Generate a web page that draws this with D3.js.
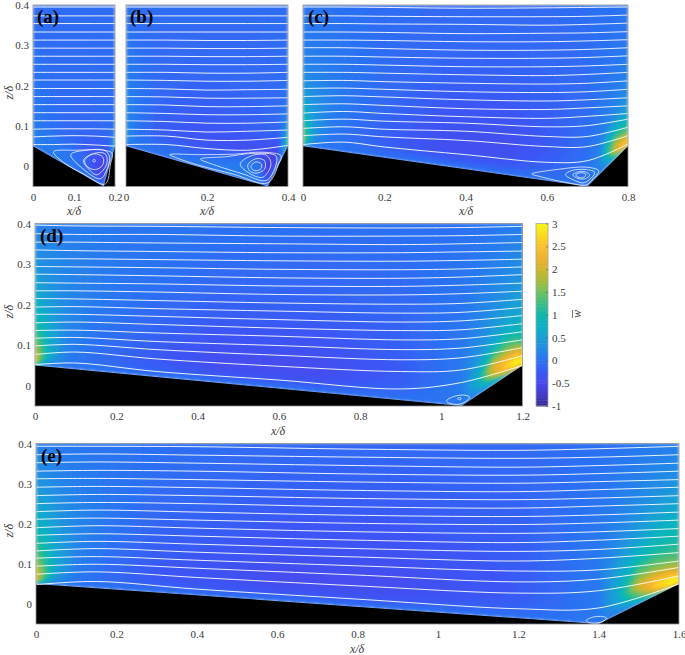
<!DOCTYPE html>
<html>
<head>
<meta charset="utf-8">
<script src="https://cdn.jsdelivr.net/npm/d3@7"></script>
<style>
body { margin: 0; background: #fff; }
text { font-family: "Liberation Serif", serif; fill: #3a3a3a; }
</style>
</head>
<body>
<svg id="chart" width="685" height="655"></svg>
<script>
// colorbar
var cbValues = [-1,-0.75,-0.5,-0.25,0,0.25,0.5,0.75,1,1.25,1.5,1.75,2,2.25,2.5,2.75,3];
var cbColors = ['#382b96','#433cc8','#4848ee','#3a58f5','#2b72f2','#2289e6','#1a9fd6','#0bb0c4','#10b8ae','#3abd85','#70c060','#a8bb3e','#cfb52e','#efb230','#fcbe2e','#fada20','#f8f810'];
var cbTicks = [-1,-0.5,0,0.5,1,1.5,2,2.5,3];

// height above the wall as a fraction of wall-to-top distance, top row first
var sigmaRows = [1,0.75,0.55,0.4,0.28,0.18,0.11,0.06,0.025,0];

// (a)
var colsA = [0,0.02,0.06,0.11,0.14,0.16,0.172,0.185,0.2];
var wA = [
  [-0.05,-0.05,-0.05,-0.05,-0.05,-0.05,-0.05,-0.05,-0.05],
  [-0.03,-0.04,-0.05,-0.05,-0.05,-0.05,-0.05,-0.05,-0.04],
  [0,-0.02,-0.05,-0.05,-0.05,-0.05,-0.05,-0.04,-0.02],
  [0.03,0,-0.05,-0.07,-0.07,-0.06,-0.06,-0.04,0],
  [0.05,0.02,-0.05,-0.1,-0.12,-0.12,-0.1,-0.05,0.02],
  [0.1,0.05,-0.03,-0.15,-0.25,-0.3,-0.28,-0.12,0.15],
  [0.2,0.08,0.05,-0.05,-0.2,-0.55,-0.6,-0.3,0.4],
  [0.2,0.1,0.08,0,-0.2,-0.5,-0.55,-0.3,0.8],
  [0.2,0.1,0.08,0.05,-0.05,-0.2,-0.25,-0.1,0.7],
  [0.1,0.05,0.05,0.03,0.02,0.02,0.02,0.05,0.2]
];
var linesXA = [0,0.05,0.1,0.15,0.2];
var linesA = [
  [0.395,0.395,0.395,0.395,0.395],
  [0.373,0.373,0.373,0.373,0.373],
  [0.354,0.354,0.354,0.354,0.354],
  [0.333,0.333,0.333,0.333,0.333],
  [0.313,0.313,0.313,0.313,0.313],
  [0.293,0.293,0.293,0.293,0.293],
  [0.273,0.273,0.273,0.273,0.273],
  [0.253,0.253,0.253,0.253,0.253],
  [0.233,0.233,0.233,0.233,0.233],
  [0.214,0.214,0.214,0.214,0.214],
  [0.193,0.193,0.193,0.193,0.193],
  [0.173,0.173,0.173,0.173,0.173],
  [0.153,0.153,0.153,0.153,0.153],
  [0.133,0.133,0.133,0.133,0.133],
  [0.113,0.113,0.113,0.113,0.113],
  [0.092,0.093,0.093,0.093,0.092],
  [0.073,0.075,0.076,0.075,0.072],
  [0.054,0.054,0.055,0.053,0.05]
];
var loopsA = [
  [[0.05,0.036],[0.107,0.04],[0.172,0.04],[0.193,0.032],[0.189,0.006],[0.176,-0.044],[0.123,-0.019],[0.074,0.01]],
  [[0.092,0.029],[0.131,0.04],[0.176,0.039],[0.187,0.022],[0.179,-0.011],[0.164,-0.031],[0.123,-0.007]],
  [[0.123,0.015],[0.148,0.032],[0.176,0.031],[0.18,0.006],[0.156,-0.021],[0.136,-0.007]],
  [[0.126,0.014],[0.148,0.031],[0.171,0.022],[0.169,0.002],[0.152,-0.008],[0.133,-0.001]],
  [[0.146,0.014],[0.149,0.018],[0.152,0.014],[0.149,0.01]]
];

// (b)
var colsB = [0,0.01,0.03,0.08,0.16,0.25,0.3,0.33,0.35,0.37,0.385,0.4];
var wB = [
  [-0.03,-0.03,-0.05,-0.05,-0.05,-0.05,-0.05,-0.05,-0.05,-0.05,-0.05,-0.05],
  [0.02,0.01,-0.03,-0.07,-0.08,-0.08,-0.08,-0.08,-0.07,-0.06,-0.05,-0.04],
  [0.1,0.08,0.02,-0.08,-0.12,-0.12,-0.1,-0.1,-0.09,-0.07,-0.05,-0.02],
  [0.18,0.14,0.05,-0.1,-0.18,-0.17,-0.15,-0.13,-0.1,-0.08,-0.03,0],
  [0.25,0.18,0.05,-0.15,-0.25,-0.25,-0.22,-0.2,-0.15,-0.1,0.02,0.1],
  [0.3,0.2,0.02,-0.2,-0.3,-0.38,-0.4,-0.42,-0.45,-0.3,0.05,0.4],
  [0.35,0.2,0,-0.15,-0.25,-0.1,0.05,0.05,-0.7,-0.6,0.1,0.8],
  [0.4,0.2,0.02,-0.05,-0.05,0.1,0.1,0,-0.55,-0.5,0.15,1.1],
  [0.3,0.1,0.03,0.02,0.05,0.1,0.1,0.05,-0.2,-0.15,0.1,0.9],
  [0.1,0.05,0.03,0.03,0.03,0.03,0.03,0.03,0.03,0.03,0.05,0.3]
];
var linesXB = [0,0.1,0.2,0.3,0.4];
var linesB = [
  [0.395,0.395,0.395,0.395,0.395],
  [0.373,0.373,0.373,0.373,0.373],
  [0.354,0.354,0.354,0.354,0.354],
  [0.333,0.333,0.333,0.333,0.333],
  [0.313,0.313,0.312,0.312,0.313],
  [0.293,0.293,0.292,0.292,0.293],
  [0.273,0.273,0.272,0.272,0.273],
  [0.253,0.253,0.252,0.252,0.253],
  [0.233,0.233,0.231,0.231,0.233],
  [0.214,0.213,0.211,0.211,0.213],
  [0.193,0.192,0.189,0.19,0.191],
  [0.173,0.172,0.169,0.169,0.17],
  [0.153,0.152,0.148,0.148,0.15],
  [0.133,0.131,0.128,0.128,0.13],
  [0.113,0.111,0.107,0.107,0.11],
  [0.092,0.09,0.085,0.087,0.09],
  [0.075,0.075,0.065,0.065,0.072],
  [0.054,0.054,0.044,0.04,0.052]
];
var loopsB = [
  [[0.108,0.029],[0.182,0.029],[0.264,0.03],[0.338,0.035],[0.383,0.026],[0.377,0.006],[0.35,-0.041],[0.264,-0.019],[0.182,0.002],[0.125,0.021]],
  [[0.184,0.018],[0.248,0.024],[0.313,0.032],[0.37,0.026],[0.37,0.002],[0.346,-0.035],[0.289,-0.019],[0.223,0.002]],
  [[0.282,0.006],[0.309,0.026],[0.346,0.028],[0.358,0.006],[0.338,-0.027],[0.301,-0.015]],
  [[0.301,0.004],[0.321,0.019],[0.342,0.014],[0.342,-0.007],[0.321,-0.017],[0.305,-0.011]],
  [[0.309,0.002],[0.321,0.011],[0.334,0.006],[0.334,-0.005],[0.321,-0.011],[0.311,-0.007]]
];

// (c)
var colsC = [0,0.01,0.03,0.07,0.12,0.2,0.35,0.5,0.62,0.7,0.73,0.75,0.77,0.79,0.8];
var wC = [
  [0.02,0.02,0.01,0,-0.02,-0.05,-0.07,-0.07,-0.06,-0.03,-0.02,-0.01,0,0.02,0.03],
  [0.12,0.1,0.08,0.05,0,-0.05,-0.1,-0.12,-0.1,-0.05,-0.02,0,0.03,0.06,0.08],
  [0.25,0.22,0.17,0.1,0.03,-0.06,-0.17,-0.18,-0.13,-0.05,0,0.03,0.08,0.13,0.15],
  [0.45,0.38,0.28,0.14,0.03,-0.08,-0.25,-0.27,-0.18,-0.05,0.03,0.09,0.16,0.22,0.25],
  [0.75,0.6,0.38,0.15,0.02,-0.12,-0.33,-0.36,-0.2,-0.03,0.08,0.18,0.3,0.42,0.48],
  [1.1,0.8,0.4,0.1,-0.02,-0.17,-0.38,-0.42,-0.22,-0.02,0.15,0.6,0.85,0.9,0.85],
  [1.5,1,0.35,0.05,-0.05,-0.2,-0.4,-0.38,-0.15,0,0.2,1.1,1.7,1.5,1.4],
  [1.7,0.95,0.25,0.03,-0.03,-0.15,-0.28,-0.25,-0.1,0,0.2,0.9,2.2,2.4,2.1],
  [1.4,0.6,0.12,0.02,-0.01,-0.05,-0.08,-0.07,-0.03,0.02,0.15,0.5,1.5,2.6,2.5],
  [0.4,0.15,0.05,0.02,0.02,0.02,0.02,0.02,0.02,0.03,0.08,0.2,0.4,1,1.5]
];
var linesXC = [0,0.1,0.2,0.4,0.6,0.7,0.8];
var linesC = [
  [0.395,0.395,0.394,0.392,0.393,0.394,0.395],
  [0.373,0.373,0.372,0.371,0.371,0.372,0.375],
  [0.354,0.354,0.353,0.352,0.35,0.352,0.355],
  [0.333,0.333,0.332,0.329,0.33,0.331,0.334],
  [0.313,0.313,0.312,0.309,0.309,0.311,0.314],
  [0.294,0.294,0.292,0.288,0.288,0.29,0.294],
  [0.273,0.273,0.271,0.268,0.268,0.27,0.274],
  [0.253,0.253,0.251,0.247,0.247,0.249,0.253],
  [0.233,0.233,0.231,0.227,0.225,0.228,0.233],
  [0.212,0.213,0.21,0.206,0.204,0.206,0.212],
  [0.193,0.194,0.191,0.185,0.183,0.185,0.191],
  [0.173,0.175,0.172,0.165,0.162,0.165,0.17],
  [0.153,0.155,0.151,0.143,0.141,0.145,0.15],
  [0.132,0.136,0.131,0.123,0.119,0.124,0.131],
  [0.113,0.117,0.112,0.107,0.098,0.101,0.117],
  [0.094,0.098,0.092,0.087,0.074,0.074,0.097],
  [0.076,0.08,0.073,0.064,0.049,0.049,0.076],
  [0.054,0.06,0.048,0.029,0.01,0.014,0.055]
];
var loopsC = [
  [[0.563,-0.019],[0.632,-0.007],[0.697,-0.002],[0.728,-0.011],[0.714,-0.031],[0.697,-0.046],[0.648,-0.04],[0.582,-0.025]],
  [[0.646,-0.021],[0.66,-0.011],[0.697,-0.008],[0.718,-0.015],[0.704,-0.034],[0.689,-0.041],[0.669,-0.035]],
  [[0.664,-0.021],[0.681,-0.013],[0.699,-0.015],[0.705,-0.023],[0.693,-0.031],[0.677,-0.03]],
  [[0.671,-0.021],[0.683,-0.016],[0.696,-0.019],[0.693,-0.026],[0.681,-0.028]]
];

// (d)
var colsD = [0,0.015,0.04,0.08,0.14,0.25,0.45,0.7,0.9,1.05,1.09,1.13,1.16,1.185,1.2];
var wD = [
  [0.15,0.15,0.12,0.1,0.08,0.05,0,-0.02,-0.02,0,0.02,0.05,0.08,0.1,0.1],
  [0.35,0.3,0.25,0.18,0.12,0.03,-0.05,-0.08,-0.05,0.02,0.08,0.14,0.2,0.24,0.25],
  [0.6,0.5,0.38,0.22,0.12,0,-0.13,-0.15,-0.1,0.03,0.15,0.25,0.33,0.38,0.4],
  [0.85,0.7,0.48,0.25,0.08,-0.05,-0.22,-0.25,-0.15,0.05,0.2,0.38,0.5,0.55,0.58],
  [1.15,0.95,0.55,0.22,0.05,-0.1,-0.32,-0.34,-0.18,0.07,0.28,0.55,0.8,0.8,0.8],
  [1.5,1.15,0.6,0.2,0,-0.16,-0.4,-0.42,-0.22,0.08,0.5,1.3,1.5,1.4,1.1],
  [1.9,1.35,0.65,0.15,-0.03,-0.18,-0.42,-0.42,-0.2,0.1,0.7,2.2,2.4,2.4,1.9],
  [2.2,1.4,0.5,0.1,-0.03,-0.16,-0.32,-0.32,-0.12,0.1,0.7,2,2.7,3,2.6],
  [2,1,0.25,0.05,0,-0.05,-0.1,-0.1,-0.05,0.08,0.4,1,2,2.8,3],
  [0.5,0.2,0.05,0.03,0.02,0.02,0.02,0.02,0.02,0.05,0.15,0.3,0.6,1.2,2]
];
var linesXD = [0,0.1,0.3,0.6,0.9,1.05,1.2];
var linesD = [
  [0.396,0.394,0.393,0.39,0.389,0.39,0.393],
  [0.375,0.373,0.373,0.369,0.369,0.37,0.373],
  [0.354,0.354,0.352,0.35,0.348,0.35,0.353],
  [0.335,0.333,0.331,0.328,0.328,0.33,0.332],
  [0.313,0.313,0.311,0.308,0.307,0.309,0.312],
  [0.294,0.293,0.291,0.287,0.286,0.288,0.293],
  [0.275,0.274,0.271,0.266,0.265,0.268,0.274],
  [0.254,0.253,0.251,0.246,0.245,0.248,0.253],
  [0.234,0.234,0.231,0.225,0.224,0.227,0.233],
  [0.215,0.214,0.21,0.204,0.201,0.203,0.213],
  [0.194,0.195,0.19,0.184,0.179,0.181,0.193],
  [0.176,0.176,0.171,0.163,0.157,0.16,0.173],
  [0.155,0.157,0.151,0.142,0.136,0.138,0.153],
  [0.136,0.137,0.13,0.122,0.113,0.116,0.133],
  [0.117,0.119,0.109,0.099,0.089,0.093,0.113],
  [0.098,0.102,0.089,0.075,0.064,0.069,0.094],
  [0.077,0.083,0.066,0.048,0.035,0.039,0.074],
  [0.052,0.056,0.035,0.014,-0.008,0.008,0.05]
];
var loopsD = [
  [[1.013,-0.037],[1.03,-0.027],[1.055,-0.023],[1.07,-0.028],[1.06,-0.039],[1.04,-0.046],[1.02,-0.043]],
  [[1.04,-0.032],[1.044,-0.029],[1.049,-0.031],[1.046,-0.035]]
];

// (e)
var colsE = [0,0.02,0.05,0.1,0.18,0.3,0.6,0.9,1.2,1.4,1.45,1.5,1.54,1.58,1.6];
var wE = [
  [0.15,0.13,0.1,0.07,0.03,-0.02,-0.08,-0.1,-0.08,-0.01,0.03,0.07,0.1,0.13,0.15],
  [0.35,0.3,0.22,0.13,0.05,-0.05,-0.15,-0.17,-0.12,0.02,0.1,0.18,0.25,0.3,0.32],
  [0.65,0.55,0.38,0.2,0.05,-0.1,-0.24,-0.25,-0.17,0.05,0.18,0.35,0.5,0.58,0.6],
  [0.9,0.75,0.48,0.22,0.03,-0.15,-0.3,-0.33,-0.2,0.07,0.28,0.55,0.78,0.9,0.95],
  [1.2,0.95,0.55,0.2,0,-0.2,-0.37,-0.38,-0.23,0.08,0.5,0.9,1.1,1.1,1.1],
  [1.55,1.15,0.6,0.15,-0.05,-0.25,-0.42,-0.42,-0.25,0.08,0.65,1.5,1.6,1.5,1.4],
  [1.95,1.35,0.55,0.1,-0.08,-0.27,-0.42,-0.4,-0.22,0.08,0.7,2.1,2.4,2.2,1.9],
  [2.25,1.35,0.42,0.06,-0.07,-0.22,-0.33,-0.3,-0.15,0.08,0.55,1.5,2.7,2.9,2.6],
  [2,0.95,0.2,0.03,-0.02,-0.08,-0.1,-0.1,-0.05,0.06,0.3,0.9,1.8,3,2.9],
  [0.5,0.2,0.05,0.03,0.02,0.02,0.02,0.02,0.02,0.04,0.12,0.3,0.6,1.2,2]
];
var linesXE = [0,0.15,0.4,0.8,1.2,1.4,1.6];
var linesE = [
  [0.393,0.393,0.392,0.386,0.383,0.387,0.393],
  [0.372,0.374,0.371,0.366,0.363,0.366,0.372],
  [0.352,0.354,0.351,0.345,0.341,0.345,0.351],
  [0.331,0.333,0.331,0.324,0.321,0.325,0.331],
  [0.312,0.313,0.31,0.304,0.301,0.305,0.31],
  [0.291,0.293,0.29,0.283,0.28,0.285,0.291],
  [0.27,0.273,0.27,0.263,0.26,0.264,0.27],
  [0.25,0.253,0.25,0.242,0.239,0.244,0.25],
  [0.23,0.234,0.229,0.221,0.218,0.222,0.229],
  [0.211,0.214,0.209,0.201,0.198,0.202,0.209],
  [0.19,0.195,0.189,0.18,0.176,0.18,0.188],
  [0.171,0.175,0.169,0.159,0.153,0.159,0.169],
  [0.151,0.156,0.149,0.138,0.131,0.136,0.149],
  [0.132,0.138,0.129,0.117,0.107,0.114,0.128],
  [0.114,0.118,0.109,0.095,0.082,0.085,0.107],
  [0.094,0.099,0.089,0.072,0.055,0.062,0.091],
  [0.074,0.08,0.066,0.045,0.027,0.033,0.07],
  [0.048,0.056,0.037,0.012,-0.012,-0.01,0.05]
];
var loopsE = [
  [[1.369,-0.041],[1.385,-0.033],[1.405,-0.031],[1.42,-0.035],[1.41,-0.044],[1.39,-0.048],[1.375,-0.046]]
];

var ticksZ = [0,0.1,0.2,0.3,0.4];
var ticksA = [0,0.1,0.2];
var ticksB = [0,0.2,0.4];
var ticksC = [0,0.2,0.4,0.6,0.8];
var ticksD = [0,0.2,0.4,0.6,0.8,1,1.2];
var ticksE = [0,0.2,0.4,0.6,0.8,1,1.2,1.4,1.6];

var svg = d3.select('#chart');
var fmt = function(d){ return String(d); };
var tickFont = 11;

var color = d3.scaleLinear().domain(cbValues).range(cbColors).interpolate(d3.interpolateRgb).clamp(true);
var step = 4 / 128;
var levels = d3.range(-1, 3, step);

var defs = svg.append('defs');
defs.append('filter').attr('id', 'soft')
    .attr('x', '-5%').attr('y', '-5%').attr('width', '110%').attr('height', '110%')
    .append('feGaussianBlur').attr('stdDeviation', 1.4);

drawPanel({ id:'a', label:'(a)', left:33, right:115, top:5, bottom:186.5, xMax:0.2, valley:0.172, ticks:ticksA, cols:colsA, w:wA, lx:linesXA, lines:linesA, loops:loopsA, zLabels:true, xLabelX:74, xLabelY:211, tickY:197, labelX:37 });
drawPanel({ id:'b', label:'(b)', left:126, right:288, top:5, bottom:186.5, xMax:0.4, valley:0.35, ticks:ticksB, cols:colsB, w:wB, lx:linesXB, lines:linesB, loops:loopsB, zLabels:false, xLabelX:207, xLabelY:211, tickY:197, labelX:130 });
drawPanel({ id:'c', label:'(c)', left:303, right:628, top:5, bottom:186.5, xMax:0.8, valley:0.7, ticks:ticksC, cols:colsC, w:wC, lx:linesXC, lines:linesC, loops:loopsC, zLabels:false, xLabelX:466, xLabelY:211, tickY:197, labelX:308 });
drawPanel({ id:'d', label:'(d)', left:35, right:522.5, top:223.5, bottom:406, xMax:1.2, valley:1.05, ticks:ticksD, cols:colsD, w:wD, lx:linesXD, lines:linesD, loops:loopsD, zLabels:true, xLabelX:278, xLabelY:431, tickY:416, labelX:40 });
drawPanel({ id:'e', label:'(e)', left:36, right:679, top:443.5, bottom:624, xMax:1.6, valley:1.4, ticks:ticksE, cols:colsE, w:wE, lx:linesXE, lines:linesE, loops:loopsE, zLabels:true, xLabelX:357, xLabelY:649, tickY:634, labelX:41 });
drawColorbar();

function drawPanel(p){
    var x = d3.scaleLinear().domain([0, p.xMax]).range([p.left, p.right]);
    var z = d3.scaleLinear().domain([-0.05, 0.4]).range([p.bottom, p.top]);
    var wall = d3.scaleLinear().domain([0, p.valley, p.xMax]).range([0.05, -0.05, 0.05]);
    var n = p.cols.length, m = sigmaRows.length;

    defs.append('clipPath').attr('id', 'clip-' + p.id)
        .append('rect')
        .attr('x', p.left).attr('y', p.top)
        .attr('width', p.right - p.left).attr('height', p.bottom - p.top);

    var g = svg.append('g').attr('clip-path', 'url(#clip-' + p.id + ')');

    // shaded field, contours are worked out on the grid and then bent onto the wall
    var colAt = d3.scaleLinear().domain(d3.range(n)).range(p.cols).clamp(true);
    var rowAt = d3.scaleLinear().domain(d3.range(m)).range(sigmaRows).clamp(true);
    var bend = d3.geoTransform({
        point: function(cx, cy){
            var xv = colAt(cx - 0.5);
            var s = rowAt(cy - 0.5);
            var zv = wall(xv) + (0.4 - wall(xv)) * s;
            this.stream.point(x(xv), z(zv));
        }
    });
    var path = d3.geoPath(bend);
    var contours = d3.contours().size([n, m]).thresholds(levels)(p.w.flat());

    g.append('g').attr('filter', 'url(#soft)')
        .selectAll('path')
        .data(contours)
        .enter()
        .append('path')
        .attr('d', path)
        .attr('fill', function(d){ return color(d.value + step / 2); });

    // wedge below the wall
    var wedge = d3.line().x(function(d){ return x(d[0]); }).y(function(d){ return z(d[1]); });
    var floorPts = [[0, -0.05], [0, 0.05], [p.valley, -0.05], [p.xMax, 0.05], [p.xMax, -0.05]];
    g.append('path').attr('d', wedge(floorPts) + 'Z').attr('fill', '#000');

    // streamlines
    var stream = d3.line()
        .x(function(d, i){ return x(p.lx[i]); })
        .y(function(d){ return z(d); })
        .curve(d3.curveCatmullRom.alpha(0.5));
    g.selectAll('path.stream')
        .data(p.lines)
        .enter()
        .append('path')
        .attr('class', 'stream')
        .attr('d', stream)
        .attr('fill', 'none')
        .attr('stroke', '#fff')
        .attr('stroke-opacity', 0.9)
        .attr('stroke-width', 1);

    var loop = d3.line()
        .x(function(d){ return x(d[0]); })
        .y(function(d){ return z(d[1]); })
        .curve(d3.curveCatmullRomClosed.alpha(0.5));
    g.selectAll('path.loop')
        .data(p.loops)
        .enter()
        .append('path')
        .attr('class', 'loop')
        .attr('d', loop)
        .attr('fill', 'none')
        .attr('stroke', '#fff')
        .attr('stroke-opacity', 0.9)
        .attr('stroke-width', 0.8);

    // frame and axes
    svg.append('rect')
        .attr('x', p.left).attr('y', p.top)
        .attr('width', p.right - p.left).attr('height', p.bottom - p.top)
        .attr('fill', 'none').attr('stroke', '#8a8f98').attr('stroke-width', 0.8);

    var xAxis = svg.append('g')
        .attr('transform', 'translate(0,' + p.bottom + ')')
        .call(d3.axisBottom(x).tickValues(p.ticks).tickFormat(fmt).tickSize(0).tickPadding(0));
    xAxis.select('.domain').remove();
    xAxis.selectAll('text')
        .attr('dy', null)
        .attr('y', p.tickY - p.bottom + 4)
        .attr('font-size', tickFont)
        .style('font-family', '"Liberation Serif", serif');

    if( p.zLabels ){
        var zAxis = svg.append('g')
            .attr('transform', 'translate(' + p.left + ',0)')
            .call(d3.axisLeft(z).tickValues(ticksZ).tickFormat(fmt).tickSize(0).tickPadding(4));
        zAxis.select('.domain').remove();
        zAxis.selectAll('text')
            .attr('font-size', tickFont)
            .style('font-family', '"Liberation Serif", serif');
        axisTitle(9, (p.top + p.bottom) / 2 - 3, 'z', -90);
    }
    axisTitle(p.xLabelX, p.xLabelY, 'x', 0);

    svg.append('text')
        .attr('x', p.labelX)
        .attr('y', p.top + 18)
        .attr('font-size', 19)
        .attr('font-weight', 'bold')
        .style('fill', '#000')
        .text(p.label);
}

function axisTitle(px, py, name, angle){
    var t = svg.append('text')
        .attr('text-anchor', 'middle')
        .attr('transform', 'translate(' + px + ',' + py + ') rotate(' + angle + ')')
        .attr('font-size', 12)
        .attr('font-style', 'italic')
        .attr('dy', '0.35em');
    t.text(name + '/δ');
}

function drawColorbar(){
    var y = d3.scaleLinear().domain([-1, 3]).range([406, 223.5]);
    var cells = d3.range(-1, 3, 4 / 64);
    svg.append('g').selectAll('rect')
        .data(cells)
        .enter()
        .append('rect')
        .attr('x', 536)
        .attr('y', function(d){ return y(d + 4 / 64); })
        .attr('width', 12)
        .attr('height', y(-1) - y(-1 + 4 / 64) + 0.5)
        .attr('fill', function(d){ return color(d + 2 / 64); });
    svg.append('rect')
        .attr('x', 536).attr('y', 223.5).attr('width', 12).attr('height', 182.5)
        .attr('fill', 'none').attr('stroke', '#a5a5a5').attr('stroke-width', 0.8);
    var axis = svg.append('g')
        .attr('transform', 'translate(548,0)')
        .call(d3.axisRight(y).tickValues(cbTicks).tickFormat(fmt).tickSize(-2).tickPadding(4));
    axis.select('.domain').remove();
    axis.selectAll('line').attr('stroke', '#555').attr('stroke-width', 0.6);
    axis.selectAll('text')
        .attr('font-size', tickFont)
        .style('font-family', '"Liberation Serif", serif');
    svg.append('text')
        .attr('transform', 'translate(577,314) rotate(-90)')
        .attr('text-anchor', 'middle')
        .attr('font-size', 12)
        .attr('font-style', 'italic')
        .attr('dy', '0.35em')
        .text('w');
    // bar over the w
    svg.append('line')
        .attr('x1', 572.5).attr('x2', 572.5).attr('y1', 310).attr('y2', 318)
        .attr('stroke', '#3a3a3a').attr('stroke-width', 0.7);
}
</script>
</body>
</html>
